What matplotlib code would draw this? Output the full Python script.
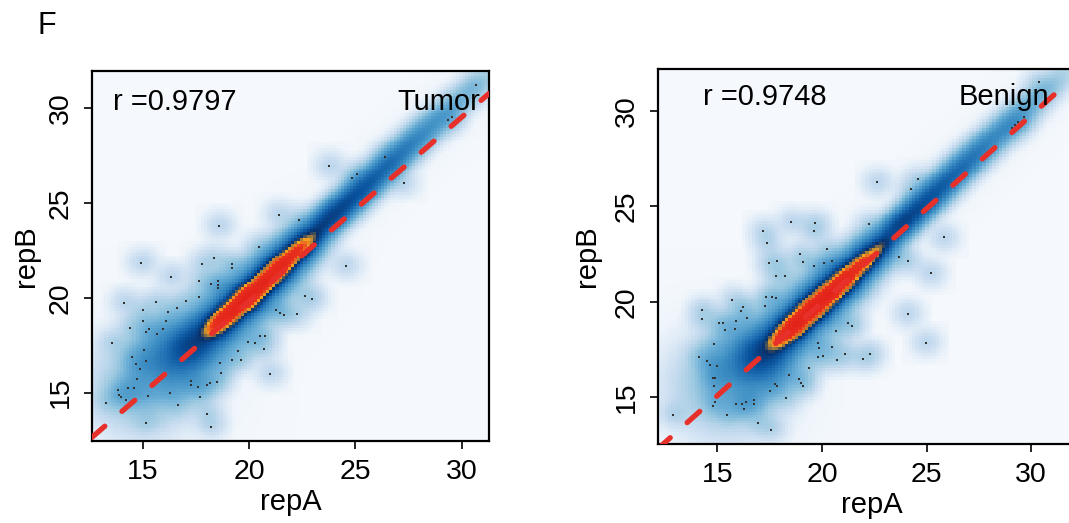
import numpy as np
import matplotlib.pyplot as plt
from matplotlib.colors import LinearSegmentedColormap

plt.rcParams['font.family'] = ['Liberation Sans', 'DejaVu Sans']

# sparse genes (repA, repB) that smoothScatter draws as single dots
tumor_points = [
    (30.66, 31.23), (29.53, 29.56), (29.35, 29.40), (23.78, 26.98), (26.40, 27.45),
    (24.86, 26.31), (25.09, 26.54), (27.26, 26.08), (21.41, 24.38), (22.35, 24.10),
    (18.59, 23.81), (20.49, 22.69), (14.94, 21.86), (18.37, 22.09), (17.81, 21.79),
    (19.19, 21.77), (19.19, 21.56), (24.55, 21.70), (16.32, 21.12), (17.67, 20.91),
    (18.56, 20.90), (18.56, 20.69), (18.56, 20.50), (18.20, 20.72), (14.11, 19.75),
    (15.64, 19.77), (17.04, 19.86), (17.67, 20.07), (15.00, 19.36), (16.60, 19.47),
    (16.18, 19.28), (16.08, 18.78), (15.00, 18.80), (14.39, 18.43), (15.14, 18.19),
    (15.30, 18.36), (15.65, 18.10), (15.97, 18.34), (13.55, 17.61), (15.06, 17.25),
    (14.50, 16.87), (14.69, 16.50), (15.14, 16.69), (14.86, 16.25), (14.72, 15.71),
    (13.83, 15.14), (14.33, 15.23), (13.90, 14.90), (14.00, 14.75), (13.29, 14.47),
    (14.61, 15.23), (14.20, 14.60), (14.60, 14.60), (15.24, 14.83), (15.14, 13.42),
    (16.27, 14.97), (16.65, 14.37), (17.27, 15.60), (17.27, 15.40), (17.59, 15.32),
    (17.71, 14.79), (18.00, 15.40), (18.15, 15.50), (18.51, 15.58), (18.04, 13.86),
    (18.20, 13.21), (18.64, 16.55), (18.69, 16.06), (19.19, 16.71), (19.61, 16.71),
    (19.50, 17.20), (19.97, 17.69), (20.30, 17.60), (20.50, 17.99), (20.75, 17.99),
    (20.71, 17.29), (20.99, 16.00), (21.27, 19.36), (21.46, 19.19), (21.65, 19.10),
    (22.27, 19.14), (22.63, 20.12), (22.98, 19.94),
]
benign_points = [
    (30.38, 31.53), (29.07, 29.09), (29.23, 29.27), (29.39, 29.44), (29.63, 29.70),
    (22.65, 26.30), (24.58, 26.45), (24.24, 25.90), (18.54, 24.19), (19.67, 24.12),
    (22.25, 24.06), (17.20, 23.70), (19.61, 23.73), (17.37, 23.10), (25.82, 23.38),
    (20.23, 22.77), (18.95, 22.51), (23.70, 22.37), (19.08, 22.09), (17.87, 22.14),
    (17.46, 22.04), (20.11, 22.02), (20.47, 22.14), (19.61, 21.90), (24.13, 22.13),
    (17.79, 21.36), (18.24, 21.36), (25.20, 21.50), (17.34, 20.27), (17.60, 20.27),
    (17.79, 20.22), (15.72, 20.10), (17.28, 19.79), (14.28, 19.58), (14.25, 19.09),
    (16.21, 19.72), (16.13, 19.54), (16.43, 19.14), (15.88, 19.00), (15.08, 18.88),
    (15.26, 18.88), (15.37, 18.53), (15.83, 18.56), (21.26, 18.88), (21.42, 18.74),
    (20.69, 18.48), (24.10, 19.37), (14.86, 17.78), (19.83, 17.83), (19.88, 17.57),
    (20.50, 17.65), (24.98, 17.86), (19.80, 17.10), (20.04, 17.17), (21.12, 17.26),
    (20.72, 16.96), (21.98, 17.01), (22.30, 17.26), (14.14, 17.13), (14.51, 16.90),
    (14.65, 16.70), (14.99, 16.64), (19.37, 16.52), (14.80, 16.03), (14.89, 16.03),
    (14.84, 15.61), (18.44, 16.17), (18.92, 15.96), (19.00, 15.73), (19.08, 15.60),
    (17.76, 15.68), (17.87, 15.59), (17.50, 15.35), (18.28, 14.95), (14.89, 14.77),
    (14.81, 14.55), (15.46, 14.07), (15.88, 14.64), (16.20, 14.64), (16.37, 14.74),
    (16.26, 14.37), (16.75, 14.86), (16.75, 14.64), (12.88, 14.07), (16.93, 13.64),
    (17.55, 13.29),
]

# bulk of genes along the diagonal, read off the colour bands:
# centre x, centre y, relative peak density, sd along diagonal, sd across
tumor_ridge_x = [14.0, 15.2, 16.3, 17.3,
                 18.5, 19.8, 21.1, 22.3,
                 18.4, 19.1, 19.9, 20.7, 21.5, 22.2, 22.8,
                 23.5, 24.5, 25.5, 26.5, 27.5, 28.5, 29.5, 30.5, 31.3]
tumor_ridge_y = [14.3, 15.5, 16.6, 17.5,
                 18.6, 19.9, 21.3, 22.6,
                 18.5, 19.2, 20.0, 20.8, 21.7, 22.4, 23.0,
                 23.9, 24.9, 25.9, 26.95, 28.0, 29.0, 30.0, 31.0, 31.8]
tumor_ridge_peak = [0.012, 0.04, 0.13, 0.28,
                    0.28, 0.28, 0.28, 0.3,
                    0.5, 0.9, 1.0, 0.95, 0.8, 0.5, 0.2,
                    0.28, 0.23, 0.19, 0.15, 0.11, 0.075, 0.045, 0.022, 0.009]
tumor_ridge_along = [1.0, 1.0, 0.9, 0.8,
                     0.8, 0.8, 0.8, 0.8,
                     0.5, 0.5, 0.5, 0.5, 0.5, 0.5, 0.5,
                     0.8, 0.8, 0.8, 0.8, 0.8, 0.8, 0.8, 0.8, 0.8]
tumor_ridge_across = [1.4, 1.3, 1.05, 0.75,
                      0.7, 0.7, 0.65, 0.55,
                      0.3, 0.33, 0.34, 0.33, 0.31, 0.28, 0.25,
                      0.42, 0.42, 0.42, 0.42, 0.42, 0.42, 0.42, 0.42, 0.42]

benign_ridge_x = [14.2, 15.3, 16.3, 17.2,
                  18.3, 19.6, 20.9, 22.2,
                  18.0, 18.7, 19.5, 20.3, 21.1, 21.9, 22.7,
                  23.6, 24.6, 25.6, 26.6, 27.6, 28.6, 29.6, 30.6, 31.5]
benign_ridge_y = [14.4, 15.5, 16.5, 17.3,
                  18.4, 19.8, 21.1, 22.4,
                  18.1, 18.8, 19.6, 20.4, 21.2, 22.0, 22.8,
                  23.9, 24.9, 25.95, 27.0, 28.0, 29.0, 30.0, 31.0, 31.9]
benign_ridge_peak = [0.01, 0.035, 0.12, 0.28,
                     0.28, 0.28, 0.28, 0.3,
                     0.55, 0.95, 1.0, 0.95, 0.8, 0.55, 0.25,
                     0.28, 0.23, 0.19, 0.15, 0.11, 0.08, 0.05, 0.028, 0.012]
benign_ridge_along = [1.0, 1.0, 0.9, 0.8,
                      0.8, 0.8, 0.8, 0.8,
                      0.5, 0.5, 0.5, 0.5, 0.5, 0.5, 0.5,
                      0.8, 0.8, 0.8, 0.8, 0.8, 0.8, 0.8, 0.8, 0.8]
benign_ridge_across = [1.5, 1.4, 1.1, 0.8,
                       0.7, 0.7, 0.65, 0.55,
                       0.3, 0.35, 0.36, 0.35, 0.32, 0.29, 0.25,
                       0.42, 0.42, 0.42, 0.42, 0.42, 0.42, 0.42, 0.42, 0.42]

# fitted line (slope, intercept) and correlation labels
tumor_fit = (0.972, 0.38)
benign_fit = (0.980, 0.38)
tumor_r = 0.9797
benign_r = 0.9748

ticks = [15, 20, 25, 30]

colours = [(0.0, '#F5F9FD'), (0.12, '#EFF5FB'), (0.2, '#DEEBF7'), (0.28, '#C6DBEF'),
           (0.36, '#9ECAE1'), (0.44, '#6BAED6'), (0.52, '#4292C6'), (0.6, '#2171B5'),
           (0.67, '#08519C'), (0.74, '#08306B'), (0.81, '#F5A623'), (0.88, '#E8321E'),
           (1.0, '#E3221B')]
cmap = LinearSegmentedColormap.from_list('smooth', colours)


def density(xlim, ylim, rx, ry, peak, along, across, points, nbin=128, bw=0.42, pt_w=0.011):
    xs = np.linspace(xlim[0], xlim[1], nbin)
    ys = np.linspace(ylim[0], ylim[1], nbin)
    X, Y = np.meshgrid(xs, ys)
    d = np.zeros_like(X)
    for cx, cy, a, sa, sc in zip(rx, ry, peak, along, across):
        dx, dy = X - cx, Y - cy
        u = (dx + dy) / np.sqrt(2)
        w = (dy - dx) / np.sqrt(2)
        d += a * np.exp(-u ** 2 / (2 * sa ** 2) - w ** 2 / (2 * sc ** 2))
    for px, py in points:
        dx, dy = X - px, Y - py
        box = (np.abs(dx) < 1.15) & (np.abs(dy) < 1.15)
        d += pt_w * np.exp(-(dx ** 2 + dy ** 2) / (2 * bw ** 2)) * box
    return (d / d.max()) ** 0.25


def panel(ax, xlim, ylim, rx, ry, peak, along, across, points, fit, r, name, name_x, name_ha, text_y, r_x):
    v = density(xlim, ylim, rx, ry, peak, along, across, points)
    ax.imshow(v, extent=(xlim[0], xlim[1], ylim[0], ylim[1]), origin='lower', aspect='auto',
              cmap=cmap, vmin=0, vmax=1, interpolation='nearest')
    pts = np.array(points)
    ax.scatter(pts[:, 0], pts[:, 1], s=4, marker='s', c='#333333', linewidths=0, zorder=3)
    xx = np.array(xlim)
    ax.plot(xx, fit[0] * xx + fit[1], color='#E8302A', lw=3.8, dashes=(3.2, 4.3),
            dash_capstyle='round', zorder=4)
    ax.set_xlim(xlim)
    ax.set_ylim(ylim)
    ax.set_xticks(ticks)
    ax.set_yticks(ticks)
    ax.tick_params(direction='out', length=6, width=1.2, labelsize=20.5, pad=7)
    plt.setp(ax.get_yticklabels(), rotation=90, va='center')
    for s in ax.spines.values():
        s.set_linewidth(1.6)
    ax.set_xlabel('repA', fontsize=21, labelpad=2)
    ax.set_ylabel('repB', fontsize=21, labelpad=6)
    ax.text(r_x, text_y, 'r =' + str(r), fontsize=21, ha='left', va='center', zorder=5)
    ax.text(name_x, text_y, name, fontsize=21, ha=name_ha, va='center', zorder=5)


fig = plt.figure(figsize=(10.69, 5.23), dpi=100)
ax1 = fig.add_axes([0.0861, 0.1568, 0.3714, 0.7075])
ax2 = fig.add_axes([0.6152, 0.1511, 0.400, 0.717])

panel(ax1, (12.62, 31.28), (12.45, 31.97), tumor_ridge_x, tumor_ridge_y, tumor_ridge_peak,
      tumor_ridge_along, tumor_ridge_across, tumor_points, tumor_fit, tumor_r,
      'Tumor', 30.86, 'right', 30.33, 13.61)
panel(ax2, (12.15, 32.58), (12.55, 32.2), benign_ridge_x, benign_ridge_y, benign_ridge_peak,
      benign_ridge_along, benign_ridge_across, benign_points, benign_fit, benign_r,
      'Benign', 26.55, 'left', 30.73, 14.32)
ax2.yaxis.labelpad = 9

fig.text(47 / 1069, 1 - 26 / 523, 'F', fontsize=22, ha='center', va='center')

fig.savefig('out.png', dpi=100)
